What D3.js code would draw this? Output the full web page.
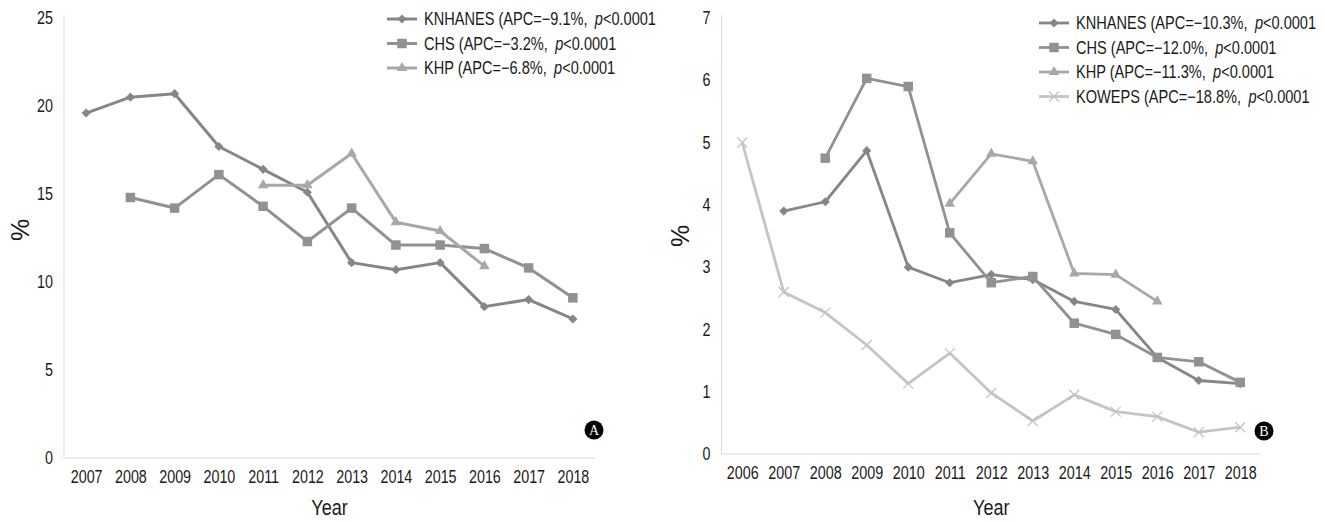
<!DOCTYPE html>
<html><head><meta charset="utf-8">
<script src="https://cdn.jsdelivr.net/npm/d3@7"></script>
<style>
body{margin:0;background:#fff}
svg text{font-family:'Liberation Sans','Arial',sans-serif;fill:#1a1a1a}
</style>
</head><body>
<svg id="c" width="1325" height="522"></svg>
<script>
// ---------- Data ----------
const yearsA = ["2007","2008","2009","2010","2011","2012","2013","2014","2015","2016","2017","2018"];
const knhanesA = [19.6,20.5,20.7,17.7,16.4,15.1,11.1,10.7,11.1,8.6,9.0,7.9];
const chsA     = [null,14.8,14.2,16.1,14.3,12.3,14.2,12.1,12.1,11.9,10.8,9.1];
const khpA     = [null,null,null,null,15.5,15.5,17.3,13.4,12.9,10.9,null,null];
const yTicksA  = [0,5,10,15,20,25];
const legendA  = [["KNHANES (APC=\u22129.1%,","p<0.0001"],["CHS (APC=\u22123.2%,","p<0.0001"],["KHP (APC=\u22126.8%,","p<0.0001"]];

const yearsB   = ["2006","2007","2008","2009","2010","2011","2012","2013","2014","2015","2016","2017","2018"];
const knhanesB = [null,3.9,4.05,4.87,3.0,2.75,2.88,2.8,2.45,2.32,1.55,1.18,1.13];
const chsB     = [null,null,4.75,6.03,5.9,3.55,2.75,2.85,2.1,1.92,1.55,1.48,1.15];
const khpB     = [null,null,null,null,null,4.02,4.82,4.7,2.9,2.88,2.45,null,null];
const kowepsB  = [5.0,2.6,2.27,1.75,1.13,1.62,0.98,0.53,0.95,0.68,0.6,0.35,0.43];
const yTicksB  = [0,1,2,3,4,5,6,7];
const legendB  = [["KNHANES (APC=\u221210.3%,","p<0.0001"],["CHS (APC=\u221212.0%,","p<0.0001"],["KHP (APC=\u221211.3%,","p<0.0001"],["KOWEPS (APC=\u221218.8%,","p<0.0001"]];

// ---------- Styles ----------
const styles = {
  KNHANES:{color:"#868686", marker:"diamond"},
  CHS:{color:"#919191", marker:"square"},
  KHP:{color:"#a8a8a8", marker:"triangle"},
  KOWEPS:{color:"#c4c4c4", marker:"x"}
};
const SX = 0.82;   // condensed look for tick / title text
const SXL = 0.81;  // condensed look for legend text

const svg = d3.select("#c");

function marker(g, type, color, x, y){
  if(type==="diamond"){
    g.append("path").attr("d", d3.symbol(d3.symbolSquare, 42)()).attr("transform",`translate(${x},${y}) rotate(45)`).attr("fill",color);
  } else if(type==="square"){
    g.append("path").attr("d", d3.symbol(d3.symbolSquare, 90)()).attr("transform",`translate(${x},${y})`).attr("fill",color);
  } else if(type==="triangle"){
    g.append("path").attr("d", d3.symbol(d3.symbolTriangle, 48)()).attr("transform",`translate(${x},${y})`).attr("fill",color);
  } else {
    const s=5;
    g.append("path").attr("d",`M${x-s},${y-s}L${x+s},${y+s}M${x-s},${y+s}L${x+s},${y-s}`).attr("stroke",color).attr("stroke-width",1.3).attr("fill","none");
  }
}

function panel(cfg){
  const g = svg.append("g");
  const x = d3.scalePoint().domain(cfg.years).range([cfg.x0, cfg.x1]).padding(0.5);
  const y = d3.scaleLinear().domain([0, cfg.ymax]).range([cfg.y0, cfg.y1]);

  // axis lines
  g.append("line").attr("x1",cfg.x0).attr("x2",cfg.x0).attr("y1",cfg.y1-3).attr("y2",cfg.y0).attr("stroke","#d9d9d9").attr("stroke-width",1);
  g.append("line").attr("x1",cfg.x0).attr("x2",cfg.x1).attr("y1",cfg.y0).attr("y2",cfg.y0).attr("stroke","#d9d9d9").attr("stroke-width",1);

  const ya = d3.axisLeft(y).tickValues(cfg.yticks).tickSize(0).tickFormat(d3.format("d"));
  const yg = g.append("g").attr("transform",`translate(${cfg.x0},0)`).call(ya);
  yg.select(".domain").remove();
  yg.selectAll("text").attr("font-size",17.5).style("font-family",null)
    .attr("x",-11/SX).attr("transform",`scale(${SX},1)`);

  const xa = d3.axisBottom(x).tickSize(0).tickPadding(13);
  const xg = g.append("g").attr("transform",`translate(0,${cfg.y0})`).call(xa);
  xg.select(".domain").remove();
  xg.selectAll("text").attr("font-size",17.5).style("font-family",null).attr("transform",`scale(${SX},1)`);

  // axis titles
  g.append("text").attr("transform",`translate(${(cfg.x0+cfg.x1)/2},515) scale(${SX},1)`).attr("text-anchor","middle").attr("font-size",22).text("Year");
  g.append("text").attr("transform",`translate(${cfg.pctX},${cfg.pctY}) rotate(-90)`).attr("text-anchor","middle").attr("dy","0.35em").attr("font-size",25).text("%");

  // series
  cfg.series.forEach(s=>{
    const st = styles[s.name];
    const pts = cfg.years.map((yr,i)=>({yr, v:s.values[i]}));
    const line = d3.line().defined(d=>d.v!=null).x(d=>x(d.yr)).y(d=>y(d.v));
    g.append("path").datum(pts).attr("d",line).attr("fill","none").attr("stroke",st.color).attr("stroke-width",cfg.lw).attr("stroke-linejoin","round");
    pts.filter(d=>d.v!=null).forEach(d=>marker(g, st.marker, st.color, x(d.yr), y(d.v)));
  });

  // legend
  cfg.legend.forEach((L,i)=>{
    const st = styles[cfg.series[i].name];
    const ly = cfg.legY + i*cfg.legStep;
    g.append("line").attr("x1",cfg.legX).attr("x2",cfg.legX+30).attr("y1",ly).attr("y2",ly).attr("stroke",st.color).attr("stroke-width",cfg.lw);
    marker(g, st.marker, st.color, cfg.legX+15, ly);
    const t = g.append("text").attr("transform",`translate(${cfg.legX+37},${ly}) scale(${SXL},1)`).attr("dy","0.35em").attr("font-size",18);
    t.append("tspan").text(L[0]);
    t.append("tspan").attr("dx",9).attr("font-style","italic").text(L[1].slice(0,1));
    t.append("tspan").text(L[1].slice(1));
  });

  // badge
  g.append("circle").attr("cx",cfg.badgeX).attr("cy",cfg.badgeY).attr("r",9.5).attr("fill","#000");
  g.append("text").attr("x",cfg.badgeX).attr("y",cfg.badgeY).attr("dy","0.36em").attr("text-anchor","middle")
    .attr("font-size",14).style("font-family","'Liberation Serif','DejaVu Serif',serif").style("fill","#fff").text(cfg.badge);
}

panel({years:yearsA, x0:64, x1:595, y0:458, y1:18, ymax:25, yticks:yTicksA, lw:3,
  series:[{name:"KNHANES",values:knhanesA},{name:"CHS",values:chsA},{name:"KHP",values:khpA}],
  legend:legendA, legX:387, legY:19, legStep:24.5, badge:"A", badgeX:594, badgeY:430, pctX:20, pctY:230});

panel({years:yearsB, x0:721.5, x1:1261, y0:454, y1:18, ymax:7, yticks:yTicksB, lw:2.8,
  series:[{name:"KNHANES",values:knhanesB},{name:"CHS",values:chsB},{name:"KHP",values:khpB},{name:"KOWEPS",values:kowepsB}],
  legend:legendB, legX:1039, legY:23, legStep:24.5, badge:"B", badgeX:1264, badgeY:431, pctX:680, pctY:236});
</script>
</body></html>
